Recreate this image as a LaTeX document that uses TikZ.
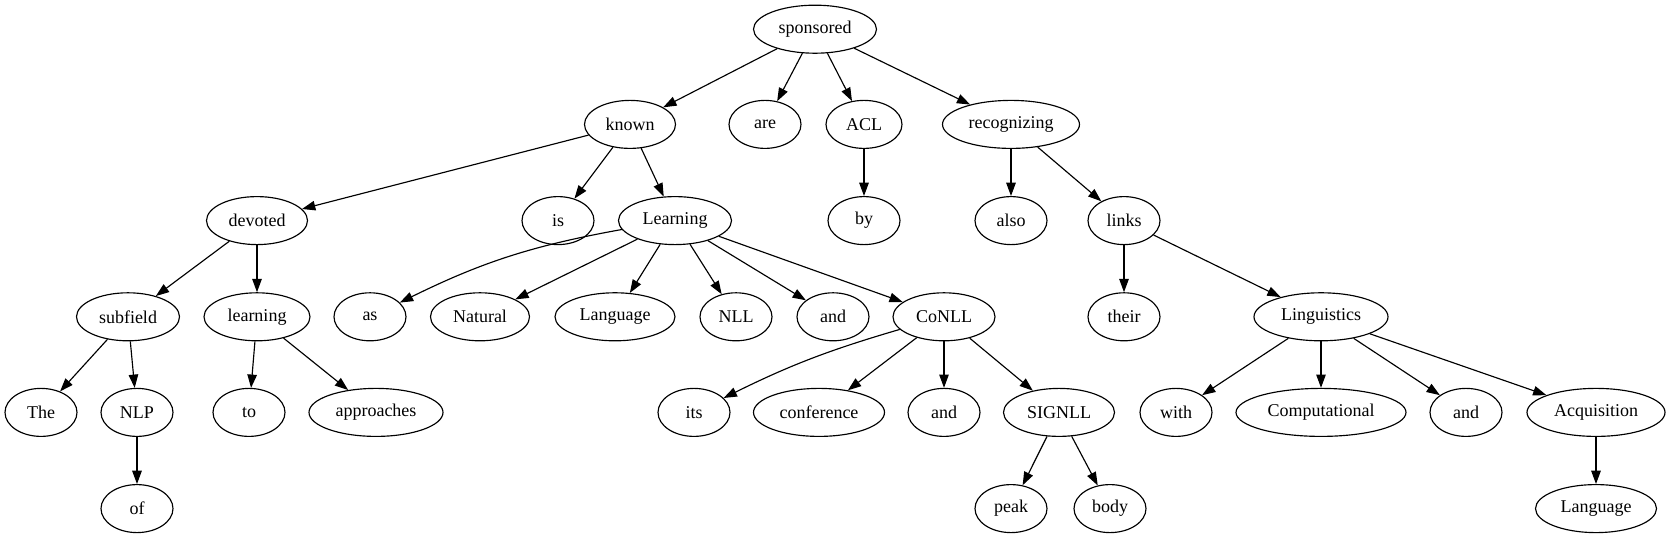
\documentclass[tikz,border=0pt]{standalone}
\usepackage{fontspec}
\setmainfont{Liberation Serif}
\usetikzlibrary{shapes.geometric,arrows.meta}
\tikzset{
  nd/.style={ellipse, draw, line width=1.15pt, minimum height=48pt, minimum width=72pt, inner sep=0pt, font=\fontsize{18}{20}\selectfont},
  ed/.style={line width=1.15pt, -{Triangle[length=13.3pt,width=9.5pt]}}
}
\begin{document}
\begin{tikzpicture}[x=1pt,y=1pt]
\useasboundingbox (0,0) rectangle (1671,539);
\def\rA{509.8}\def\rB{414.6}\def\rC{318.4}\def\rD{222.2}\def\rE{126.6}\def\rF{30.4}
% row 0
\node[nd, minimum width=123pt] (sponsored) at (815,\rA) {sponsored};
% row 1
\node[nd, minimum width=91pt] (known) at (630,\rB) {known};
\node[nd] (are) at (765,\rB) {are};
\node[nd, minimum width=76pt] (ACL) at (864,\rB) {ACL};
\node[nd, minimum width=137pt] (recognizing) at (1011,\rB) {recognizing};
% row 2
\node[nd, minimum width=101pt] (devoted) at (257,\rC) {devoted};
\node[nd] (is) at (558,\rC) {is};
\node[nd, minimum width=113pt] (Learning) at (675,\rC) {Learning};
\node[nd] (by) at (864,\rC) {by};
\node[nd] (also) at (1011,\rC) {also};
\node[nd] (links) at (1124,\rC) {links};
% row 3
\node[nd, minimum width=103pt] (subfield) at (128,\rD) {subfield};
\node[nd, minimum width=106pt] (learning) at (257,\rD) {learning};
\node[nd] (as) at (370,\rD) {as};
\node[nd, minimum width=99pt] (Natural) at (480,\rD) {Natural};
\node[nd, minimum width=120pt] (Language1) at (615,\rD) {Language};
\node[nd] (NLL) at (736,\rD) {NLL};
\node[nd] (and1) at (833,\rD) {and};
\node[nd, minimum width=102pt] (CoNLL) at (944,\rD) {CoNLL};
\node[nd] (their) at (1124,\rD) {their};
\node[nd, minimum width=134pt] (Linguistics) at (1321,\rD) {Linguistics};
% row 4
\node[nd] (The) at (41,\rE) {The};
\node[nd] (NLP) at (137,\rE) {NLP};
\node[nd] (to) at (249,\rE) {to};
\node[nd, minimum width=134pt] (approaches) at (376,\rE) {approaches};
\node[nd] (its) at (694,\rE) {its};
\node[nd, minimum width=131pt] (conference) at (819,\rE) {conference};
\node[nd] (and2) at (944,\rE) {and};
\node[nd, minimum width=111pt] (SIGNLL) at (1059,\rE) {SIGNLL};
\node[nd] (with) at (1176,\rE) {with};
\node[nd, minimum width=170pt] (Computational) at (1321,\rE) {Computational};
\node[nd] (and3) at (1466,\rE) {and};
\node[nd, minimum width=138pt] (Acquisition) at (1596,\rE) {Acquisition};
% row 5
\node[nd] (of) at (137,\rF) {of};
\node[nd] (peak) at (1011,\rF) {peak};
\node[nd] (body) at (1110,\rF) {body};
\node[nd, minimum width=121pt] (Language2) at (1596,\rF) {Language};
% edges
\draw[ed] (sponsored) -- (known);
\draw[ed] (sponsored) -- (are);
\draw[ed] (sponsored) -- (ACL);
\draw[ed] (sponsored) -- (recognizing);
\draw[ed] (known) -- (devoted);
\draw[ed] (known) -- (is);
\draw[ed] (known) -- (Learning);
\draw[ed] (ACL) -- (by);
\draw[ed] (recognizing) -- (also);
\draw[ed] (recognizing) -- (links);
\draw[ed] (devoted) -- (subfield);
\draw[ed] (devoted) -- (learning);
\draw[ed] (Learning) to[bend right=8] (as);
\draw[ed] (Learning) -- (Natural);
\draw[ed] (Learning) -- (Language1);
\draw[ed] (Learning) -- (NLL);
\draw[ed] (Learning) -- (and1);
\draw[ed] (Learning) -- (CoNLL);
\draw[ed] (links) -- (their);
\draw[ed] (links) -- (Linguistics);
\draw[ed] (subfield) -- (The);
\draw[ed] (subfield) -- (NLP);
\draw[ed] (learning) -- (to);
\draw[ed] (learning) -- (approaches);
\draw[ed] (CoNLL) to[bend right=5] (its);
\draw[ed] (CoNLL) -- (conference);
\draw[ed] (CoNLL) -- (and2);
\draw[ed] (CoNLL) -- (SIGNLL);
\draw[ed] (Linguistics) -- (with);
\draw[ed] (Linguistics) -- (Computational);
\draw[ed] (Linguistics) -- (and3);
\draw[ed] (Linguistics) -- (Acquisition);
\draw[ed] (NLP) -- (of);
\draw[ed] (SIGNLL) -- (peak);
\draw[ed] (SIGNLL) -- (body);
\draw[ed] (Acquisition) -- (Language2);
\end{tikzpicture}
\end{document}
